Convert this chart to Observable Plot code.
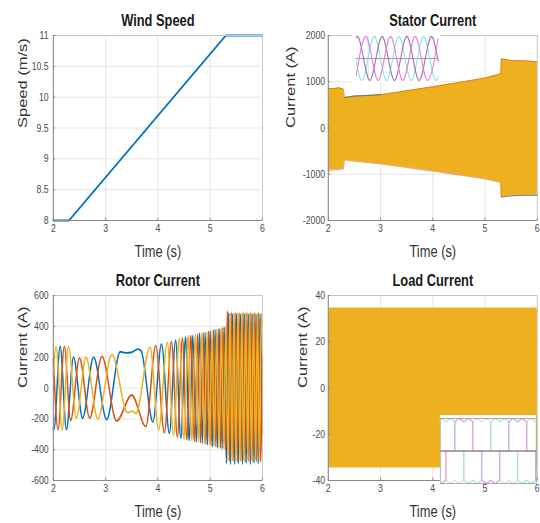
<!DOCTYPE html>
<html><head><meta charset="utf-8">
<script src="https://cdn.jsdelivr.net/npm/d3@7"></script>
<script src="https://cdn.jsdelivr.net/npm/@observablehq/plot@0.6"></script>
<style>
html,body{margin:0;padding:0;background:#fff;}
#wrap{position:relative;width:540px;height:523px;overflow:hidden;background:#fff;}
#stage{position:absolute;left:0;top:0;width:692.3px;height:523px;transform:scaleX(0.78);transform-origin:0 0;}
.pnl{position:absolute;}
</style></head><body><div id="wrap"><div id="stage"></div></div>
<script>
// ---------- data ----------
const timeTicks = [2, 3, 4, 5, 6];
const timeTickLabels = ["2", "3", "4", "5", "6"];

const windTicks = [8, 8.5, 9, 9.5, 10, 10.5, 11];
const windTickLabels = ["8", "8.5", "9", "9.5", "10", "10.5", "11"];
const windT = [2, 2.3, 5.3, 6];
const windV = [8, 8, 11, 11];

const statorTicks = [-2000, -1000, 0, 1000, 2000];
const statorTickLabels = ["-2000", "-1000", "0", "1000", "2000"];
const statorT = [2.0, 2.1, 2.2, 2.29, 2.31, 2.5, 3.0, 3.5, 4.0, 4.5, 5.0, 5.28, 5.30, 5.31, 5.5, 5.8, 6.0];
const statorUpper = [860, 850, 870, 845, 660, 690, 720, 805, 892, 985, 1080, 1165, 1170, 1500, 1460, 1450, 1432];
const statorLower = [-920, -905, -895, -885, -690, -720, -777, -855, -935, -1015, -1100, -1175, -1180, -1495, -1465, -1455, -1460];

const rotorTicks = [-600, -400, -200, 0, 200, 400, 600];
const rotorTickLabels = ["-600", "-400", "-200", "0", "200", "400", "600"];
// extrema of each rotor phase current [time s, current A]
const rotorBlue = [[2.0,-262],[2.01,-270],[2.13,270],[2.25,-270],[2.385,200],[2.56,-195],[2.77,200],[3.02,-205],[3.28,235],[3.4,228],[3.5,232],[3.62,252],[3.68,240],
  [3.905,-220],[4.07,285],[4.22,-295],[4.34,310],[4.44,-325],[4.53,330],[4.60,-340],[4.67,340],[4.735,-350],[4.80,355],[4.85,-360],[4.905,360],[4.95,-370],[5.00,370],[5.05,-380],[5.095,380],[5.14,-390],[5.185,385],[5.23,-395],[5.27,395],
  [5.31,-490],[5.355,485],[5.39,-495],[5.43,480],[5.47,-495],[5.505,480],[5.54,-490],[5.58,478],[5.62,-495],[5.655,480],[5.69,-490],[5.73,478],[5.77,-495],[5.805,480],[5.84,-488],[5.88,478],[5.92,-490],[5.955,478],[6.0,-300]];
const rotorRed = [[2.0,190],[2.09,-270],[2.21,270],[2.33,-210],[2.50,195],[2.695,-195],[2.93,205],[3.21,-215],[3.5,-45],[3.77,-250],[3.96,275],[4.125,-290],[4.26,300],[4.375,-320],[4.47,325],[4.555,-335],[4.63,340],[4.70,-345],[4.76,350],[4.815,-355],[4.87,360],[4.92,-365],[4.97,368],[5.02,-375],[5.065,378],[5.11,-380],[5.155,385],[5.20,-390],[5.245,395],[5.29,-400],
  [5.33,500],[5.37,-475],[5.405,488],[5.44,-475],[5.48,490],[5.52,-478],[5.555,488],[5.59,-475],[5.63,490],[5.67,-478],[5.705,488],[5.74,-475],[5.78,490],[5.82,-478],[5.855,488],[5.89,-475],[5.93,488],[5.965,-478],[6.0,200]];
const rotorYellow = [[2.0,70],[2.05,270],[2.17,-270],[2.29,270],[2.44,-195],[2.625,198],[2.85,-200],[3.12,218],[3.42,-160],[3.5,-150],[3.58,-165],[3.85,265],[4.015,-270],[4.18,295],[4.30,-305],[4.41,320],[4.50,-330],[4.58,338],[4.65,-340],[4.72,348],[4.78,-350],[4.84,358],[4.89,-360],[4.94,365],[4.99,-368],[5.035,372],[5.08,-375],[5.125,380],[5.17,-385],[5.215,390],[5.26,-390],[5.30,400],
  [5.34,-475],[5.38,490],[5.42,-470],[5.455,485],[5.49,-472],[5.53,488],[5.57,-470],[5.605,485],[5.64,-472],[5.68,488],[5.72,-470],[5.755,485],[5.79,-472],[5.83,486],[5.87,-470],[5.905,485],[5.94,-470],[5.98,484],[6.0,400]];

const loadTicks = [-40, -20, 0, 20, 40];
const loadTickLabels = ["-40", "-20", "0", "20", "40"];
const loadT = [2, 6];
const loadUpper = [34.6, 34.6];
const loadLower = [-34.6, -34.6];

// inset of the stator panel: three phase waves [ms, per unit]
const statorInsetPurple = [[0,0.95],[1,1],[11,-1],[21,1],[31,-1],[41,1],[51,-1],[61,1],[66.4,-0.12]];
const statorInsetCyan = [[0,-0.12],[4.6,-1],[14.6,1],[24.6,-1],[34.6,1],[44.6,-1],[54.6,1],[64.6,-1],[66.4,-0.85]];
const statorInsetMagenta = [[0,-0.77],[7.8,1],[17.8,-1],[27.8,1],[37.8,-1],[47.8,1],[57.8,-1],[66.4,0.91]];

// inset of the load panel: quasi square wave currents [ms, per unit]
const loadInsetA = [[0,-0.97],[0.4,-1],[2.07,-0.9],[2.07,0],[5.4,0],[5.4,0.9],[7.07,1],[8.73,0.9],[10.4,1],[12.07,0.9],[12.07,0],[15.4,0],[15.4,-0.9],[17.07,-1],[18.73,-0.9],[20.4,-1],[22.07,-0.9],[22.07,0],[25.4,0],[25.4,0.9],[27.07,1],[28.73,0.9],[30.4,1],[32.07,0.9],[32.07,0],[35.4,0],[35.4,-0.9],[35.6,-0.93]];
const loadInsetB = [[0,0],[2.07,0],[2.07,-0.9],[3.73,-1],[5.4,-0.9],[7.07,-1],[8.73,-0.9],[8.73,0],[12.07,0],[12.07,0.9],[13.73,1],[15.4,0.9],[17.07,1],[18.73,0.9],[18.73,0],[22.07,0],[22.07,-0.9],[23.73,-1],[25.4,-0.9],[27.07,-1],[28.73,-0.9],[28.73,0],[32.07,0],[32.07,0.9],[33.73,1],[35.4,0.9],[35.6,0.92]];
const loadInsetC = [[0,0.97],[0.4,1],[2.07,0.9],[3.73,1],[5.4,0.9],[5.4,0],[8.73,0],[8.73,-0.9],[10.4,-1],[12.07,-0.9],[13.73,-1],[15.4,-0.9],[15.4,0],[18.73,0],[18.73,0.9],[20.4,1],[22.07,0.9],[23.73,1],[25.4,0.9],[25.4,0],[28.73,0],[28.73,-0.9],[30.4,-1],[32.07,-0.9],[33.73,-1],[35.4,-0.9],[35.4,0],[35.6,0]];

// ---------- drawing ----------
const SX = 0.78;
const FONT = "'Liberation Sans', Arial, Helvetica, sans-serif";
const C_BLUE = "#0072BD", C_RED = "#D95319", C_YEL = "#EDB120";
const stage = document.getElementById("stage");

function place(svg, left, top) {
  const d = document.createElement("div");
  d.className = "pnl";
  d.style.left = left + "px";
  d.style.top = top + "px";
  d.appendChild(svg);
  stage.appendChild(d);
}

function panel(o) {
  const [y0, y1] = o.yDomain;
  const tl = (y1 - y0) * 0.013, tlx = 4 * 0.01;
  const fmt = (ticks, labels) => d => labels[ticks.indexOf(d)];
  return Plot.plot({
    width: o.w, height: o.h,
    marginLeft: o.ml, marginRight: o.mr, marginTop: o.mt, marginBottom: o.mb,
    style: {fontFamily: FONT, background: "transparent", overflow: "visible"},
    x: {domain: [2, 6]},
    y: {domain: o.yDomain},
    marks: [
      Plot.gridX(timeTicks, {stroke: "#e2e2e2", strokeOpacity: 1}),
      Plot.gridY(o.yTicks, {stroke: "#e2e2e2", strokeOpacity: 1}),
      ...o.marks,
      Plot.frame({stroke: "#c6c6c6"}),
      Plot.ruleX([2], {stroke: "#808080"}),
      Plot.ruleY([y0], {stroke: "#808080"}),
      Plot.ruleX(timeTicks, {y1: y0, y2: y0 + tl, stroke: "#808080"}),
      Plot.ruleY(o.yTicks, {x1: 2, x2: 2 + tlx, stroke: "#808080"}),
      Plot.axisX(timeTicks, {tickSize: 0, tickPadding: 4, fontSize: 11.2, fill: "#4a4a4a", tickFormat: fmt(timeTicks, timeTickLabels), label: null}),
      Plot.axisY(o.yTicks, {tickSize: 0, tickPadding: o.ypad, fontSize: 11.2, fill: "#4a4a4a", tickFormat: fmt(o.yTicks, o.yLabels), label: null}),
      Plot.text([o.title], {text: d => d, frameAnchor: "top", dy: -14.3, lineAnchor: "middle", fontSize: 16.5, fontWeight: "bold", fill: "#1a1a1a"}),
      Plot.text(["Time (s)"], {text: d => d, frameAnchor: "bottom", dy: 31, lineAnchor: "middle", fontSize: 16.5, fill: "#333"}),
      Plot.text([o.ylabel], {text: d => d, frameAnchor: "left", dx: o.ydx, rotate: -90, lineAnchor: "middle", fontSize: 16.5, fill: "#333"})
    ]
  });
}

const toObj = arr => arr.map(([t, v]) => ({t, v}));
const statorEnv = statorT.map((t, i) => ({t, hi: statorUpper[i], lo: statorLower[i]}));
const loadEnv = loadT.map((t, i) => ({t, hi: loadUpper[i], lo: loadLower[i]}));
const windData = windT.map((t, i) => ({t, v: windV[i]}));

const PW = 346;
// Wind speed
place(panel({
  w: PW, h: 260, ml: 67.9, mr: 10.1, mt: 35, mb: 40, ypad: 6, ydx: -39.5,
  yDomain: [8, 11], yTicks: windTicks, yLabels: windTickLabels,
  title: "Wind Speed", ylabel: "Speed (m/s)",
  marks: [Plot.line(windData, {x: "t", y: "v", stroke: C_BLUE, strokeWidth: 1.9})]
}), 0, 0);

// Stator current
place(panel({
  w: PW, h: 260, ml: 74.4, mr: 3.65, mt: 35, mb: 40, ypad: 4, ydx: -47.5,
  yDomain: [-2000, 2000], yTicks: statorTicks, yLabels: statorTickLabels,
  title: "Stator Current", ylabel: "Current (A)",
  marks: [
    Plot.areaY(statorEnv, {x: "t", y1: "lo", y2: "hi", fill: C_YEL}),
    Plot.line(statorEnv, {x: "t", y: "hi", stroke: C_RED, strokeWidth: 0.8, strokeOpacity: 0.75}),
    Plot.line(statorEnv, {x: "t", y: "lo", stroke: C_RED, strokeWidth: 0.8, strokeOpacity: 0.75}),
    Plot.line(statorEnv.filter(d => d.t >= 2.31 && d.t <= 3.0), {x: "t", y: "hi", stroke: C_BLUE, strokeWidth: 0.8, strokeOpacity: 0.8}),
    Plot.line(statorEnv.filter(d => d.t >= 5.31), {x: "t", y: "lo", stroke: C_BLUE, strokeWidth: 0.8, strokeOpacity: 0.8})
  ]
}), 346.15, 0);

// Rotor current
place(panel({
  w: PW, h: 263, ml: 67.9, mr: 10.1, mt: 35, mb: 43, ypad: 6, ydx: -39,
  yDomain: [-600, 600], yTicks: rotorTicks, yLabels: rotorTickLabels,
  title: "Rotor Current", ylabel: "Current (A)",
  marks: [
    Plot.line(toObj(rotorBlue), {x: "t", y: "v", stroke: C_BLUE, strokeWidth: 1.9, curve: "monotone-x"}),
    Plot.line(toObj(rotorRed), {x: "t", y: "v", stroke: C_RED, strokeWidth: 1.9, curve: "monotone-x"}),
    Plot.line(toObj(rotorYellow), {x: "t", y: "v", stroke: C_YEL, strokeWidth: 1.9, curve: "monotone-x"})
  ]
}), 0, 260);

// Load current
place(panel({
  w: PW, h: 263, ml: 74.4, mr: 3.65, mt: 35, mb: 43, ypad: 4, ydx: -32.7,
  yDomain: [-40, 40], yTicks: loadTicks, yLabels: loadTickLabels,
  title: "Load Current", ylabel: "Current (A)",
  marks: [Plot.areaY(loadEnv, {x: "t", y1: "lo", y2: "hi", fill: C_YEL})]
}), 346.15, 260);

// Stator inset
place(Plot.plot({
  width: 88 / SX, height: 49, marginLeft: 4 / SX, marginRight: 2 / SX, marginTop: 2, marginBottom: 3,
  style: {background: "#fff", overflow: "visible"},
  x: {domain: [0, 66.4], axis: null}, y: {domain: [-1, 1], axis: null},
  marks: [
    Plot.ruleX([9.7], {stroke: "#d6d6d6"}),
    Plot.ruleY([0], {stroke: "#9686a4", strokeWidth: 1}),
    Plot.line(toObj(statorInsetCyan), {x: "t", y: "v", stroke: "#86e4e4", strokeWidth: 1.3, curve: "monotone-x"}),
    Plot.line(toObj(statorInsetPurple), {x: "t", y: "v", stroke: "#a06cb0", strokeWidth: 1.3, curve: "monotone-x"}),
    Plot.line(toObj(statorInsetMagenta), {x: "t", y: "v", stroke: "#dc7cdc", strokeWidth: 1.3, curve: "monotone-x"})
  ]
}), 352 / SX, 34);

// Load inset
place(Plot.plot({
  width: 96 / SX, height: 69, marginLeft: 0, marginRight: 0, marginTop: 3, marginBottom: 1,
  style: {background: "#fff", overflow: "visible"},
  x: {domain: [0, 35.6], axis: null}, y: {domain: [-1, 1], axis: null},
  marks: [
    Plot.line(toObj(loadInsetB), {x: "t", y: "v", stroke: "#c9c0c0", strokeWidth: 0.9}),
    Plot.line(toObj(loadInsetC), {x: "t", y: "v", stroke: "#8fe3e3", strokeWidth: 1.1}),
    Plot.line(toObj(loadInsetA), {x: "t", y: "v", stroke: "#dc8ddc", strokeWidth: 1.1}),
    Plot.ruleY([0], {stroke: "#7a6464", strokeWidth: 1.2}),
    Plot.frame({stroke: "#a8a8a8"})
  ]
}), 440 / SX, 415);
</script></body></html>
